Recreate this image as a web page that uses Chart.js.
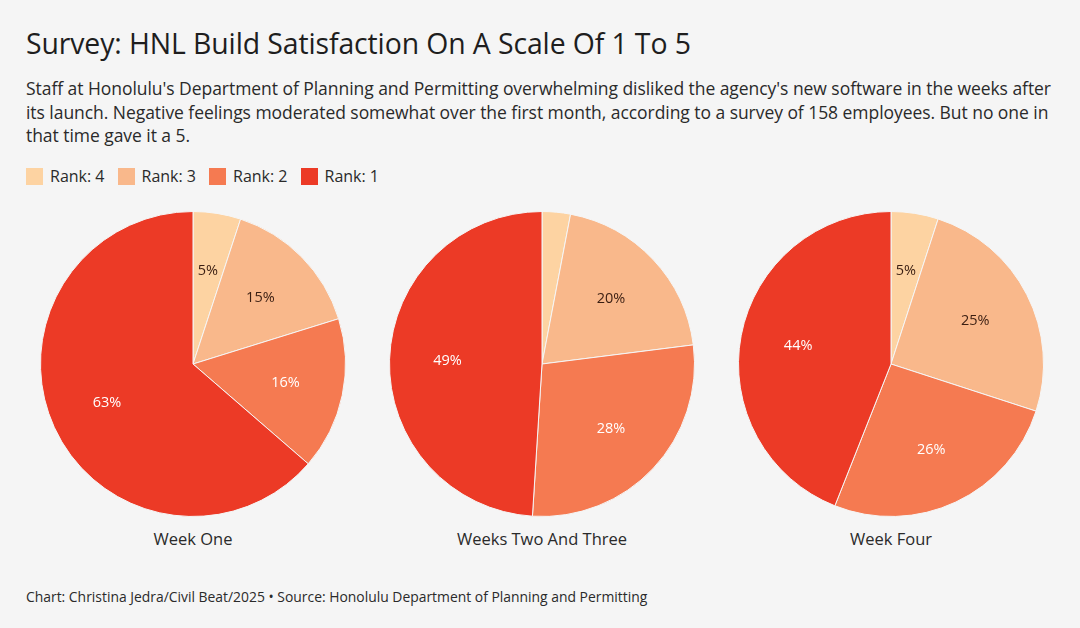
<!DOCTYPE html>
<html lang="en">
<head>
    <meta charset="UTF-8">
    <title>Survey: HNL Build Satisfaction</title>
    <script src="https://cdn.jsdelivr.net/npm/chart.js@4.4.1/dist/chart.umd.min.js"></script>
    <style>
        html, body { margin: 0; padding: 0; }
        body {
            width: 1080px; height: 628px; background: #f5f5f5;
            font-family: "Open Sans", "Liberation Sans", sans-serif; color: #222;
            position: relative; overflow: hidden;
        }
        h1 { position: absolute; left: 26px; top: 24px; margin: 0; font-size: 28.4px; font-weight: 400; color: #1e1e1e; letter-spacing: -0.1px; }
        .sub { position: absolute; left: 26px; top: 77px; margin: 0; font-size: 17.5px; line-height: 23.5px; color: #2a2a2a; letter-spacing: -0.05px; }
        .legend { position: absolute; left: 26px; top: 165px; display: flex; font-size: 16px; color: #2a2a2a; }
        .legend span { display: flex; align-items: center; margin-right: 13px; }
        .legend i { display: inline-block; width: 17px; height: 17px; margin-right: 7px; }
        .pie { position: absolute; top: 211px; width: 306px; height: 306px; }
        .label { position: absolute; top: 527px; width: 306px; text-align: center; font-size: 16.5px; color: #2a2a2a; }
        .footer { position: absolute; left: 26px; top: 587px; font-size: 13.9px; color: #2a2a2a; }
    </style>
</head>
<body>
    <h1>Survey: HNL Build Satisfaction On A Scale Of 1 To 5</h1>
    <p class="sub">Staff at Honolulu's Department of Planning and Permitting overwhelming disliked the agency's new software in the weeks after<br>its launch. Negative feelings moderated somewhat over the first month, according to a survey of 158 employees. But no one in<br>that time gave it a 5.</p>
    <div class="legend" id="legend"></div>

    <div class="pie" style="left:40px"><canvas id="pie0"></canvas></div>
    <div class="pie" style="left:389px"><canvas id="pie1"></canvas></div>
    <div class="pie" style="left:738px"><canvas id="pie2"></canvas></div>
    <div class="label" style="left:40px" id="lab0"></div>
    <div class="label" style="left:389px" id="lab1"></div>
    <div class="label" style="left:738px" id="lab2"></div>

    <div class="footer">Chart: Christina Jedra/Civil Beat/2025 &bull; Source: Honolulu Department of Planning and Permitting</div>

    <script>
        const ranks = ['Rank: 4', 'Rank: 3', 'Rank: 2', 'Rank: 1'];
        const periods = ['Week One', 'Weeks Two And Three', 'Week Four'];
        const weekOne = [5, 15, 16, 63];
        const weeksTwoThree = [3, 20, 28, 49];
        const weekFour = [5, 25, 26, 44];
        const rankColors = ['#fdd3a2', '#f9b88b', '#f57a51', '#ec3a26'];
        const labelColors = ['#3a1e12', '#3a1e12', '#ffffff', '#ffffff'];

        // legend
        const legend = document.getElementById('legend');
        ranks.forEach((r, i) => {
            const s = document.createElement('span');
            s.innerHTML = `<i style="background:${rankColors[i]}"></i>${r}`;
            legend.appendChild(s);
        });

        // draws the % labels inside the slices
        const sliceLabels = {
            id: 'sliceLabels',
            afterDatasetsDraw(chart) {
                const ctx = chart.ctx;
                const meta = chart.getDatasetMeta(0);
                const values = chart.data.datasets[0].data;
                ctx.save();
                ctx.font = '14.5px "Open Sans", sans-serif';
                ctx.textAlign = 'center';
                ctx.textBaseline = 'middle';
                meta.data.forEach((arc, i) => {
                    if (values[i] < 4) return;
                    const p = arc.getProps(['x', 'y', 'startAngle', 'endAngle', 'outerRadius'], true);
                    const mid = (p.startAngle + p.endAngle) / 2;
                    const d = p.outerRadius * 0.62;
                    ctx.fillStyle = labelColors[i];
                    ctx.fillText(values[i] + '%', p.x + Math.cos(mid) * d, p.y + Math.sin(mid) * d);
                });
                ctx.restore();
            }
        };

        function createPie(id, values) {
            const ctx = document.getElementById(id).getContext('2d');
            return new Chart(ctx, {
                type: 'pie',
                data: {
                    labels: ranks,
                    datasets: [{
                        data: values,
                        backgroundColor: rankColors,
                        borderColor: '#f5f5f5',
                        borderWidth: 1
                    }]
                },
                options: {
                    responsive: true,
                    maintainAspectRatio: false,
                    animation: false,
                    layout: { padding: 0 },
                    plugins: {
                        legend: { display: false },
                        tooltip: { enabled: false }
                    }
                },
                plugins: [sliceLabels]
            });
        }

        [weekOne, weeksTwoThree, weekFour].forEach((vals, i) => {
            createPie('pie' + i, vals);
            document.getElementById('lab' + i).textContent = periods[i];
        });
    </script>
</body>
</html>
